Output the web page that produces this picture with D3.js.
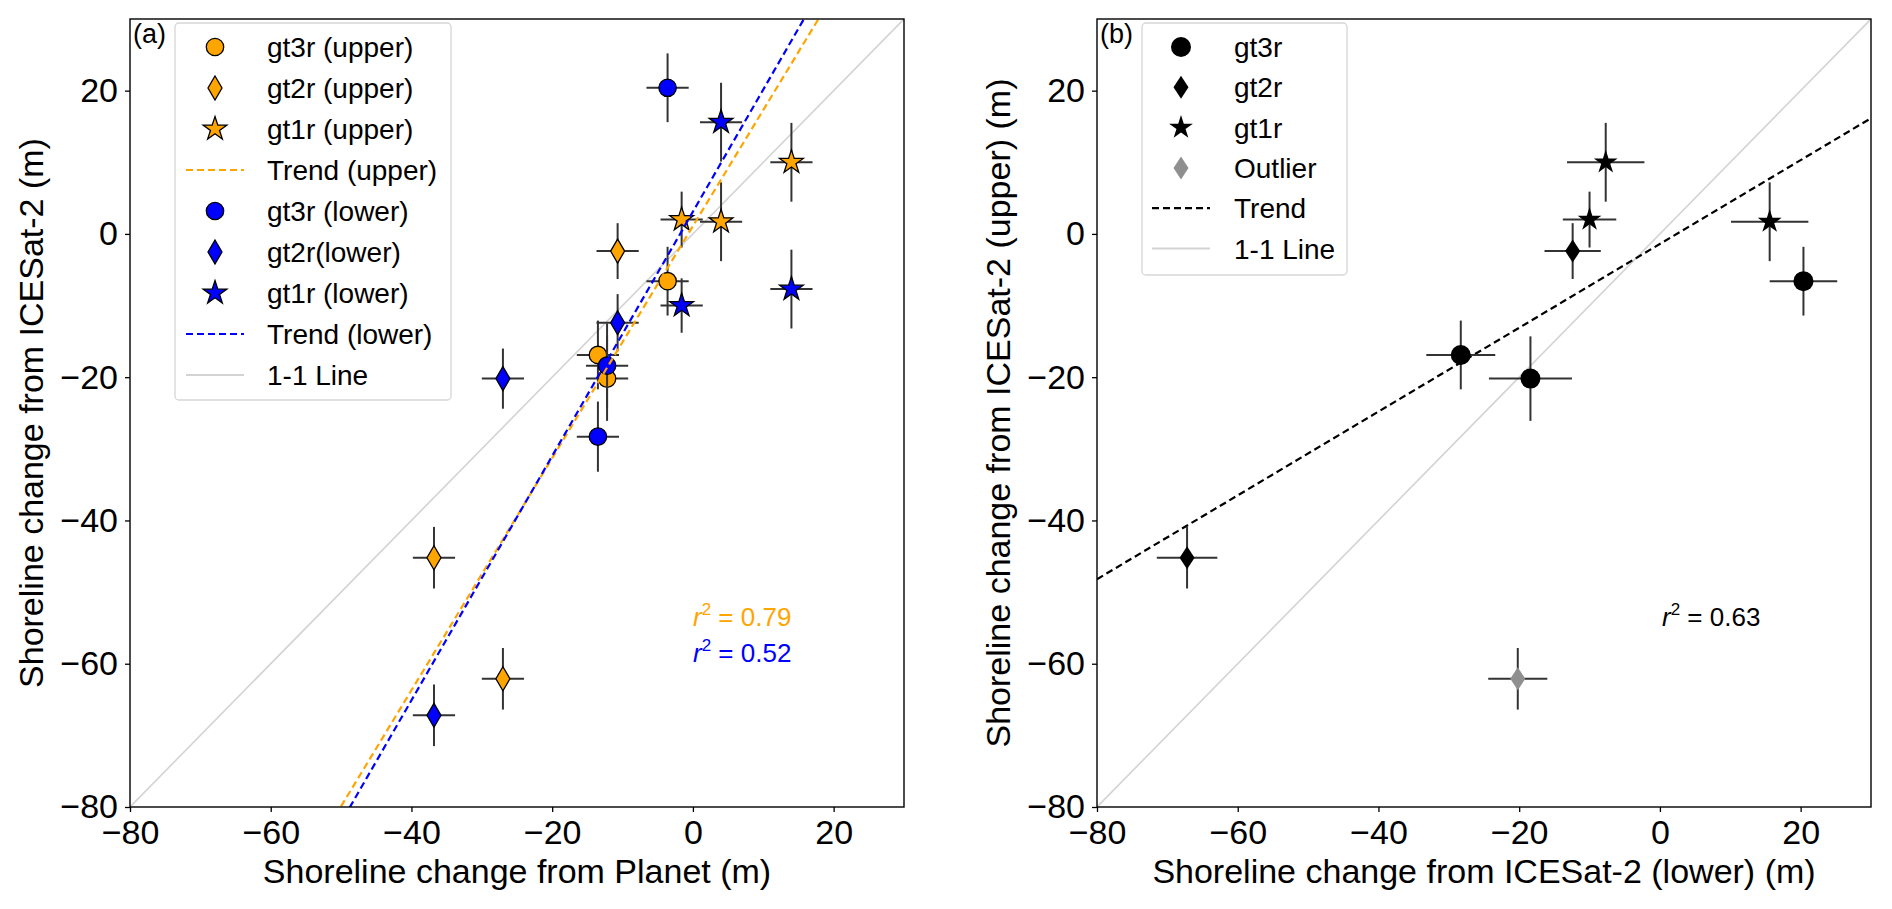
<!DOCTYPE html>
<html>
<head>
<meta charset="utf-8">
<script src="https://d3js.org/d3.v7.min.js"></script>
<style>
  body { margin: 0; background: #fff; }
  text { font-family: "Liberation Sans", Arial, sans-serif; }
</style>
</head>
<body>
<div id="canvas"></div>
<script>
// values, one entry per site
var beam      = ["gt3r", "gt3r", "gt3r", "gt2r", "gt2r", "gt2r", "gt1r", "gt1r", "gt1r"];
var planet    = [-3.6, -12.2, -13.5, -10.7, -36.8, -27.0, 14.0, -1.6, 4.0];
var planetErr = [3.0, 3.0, 3.0, 3.0, 3.0, 3.0, 3.0, 3.0, 3.0];
var upper     = [-6.6, -20.2, -16.9, -2.4, -45.2, -62.1, 10.0, 2.0, 1.7];
var upperErr  = [4.8, 5.9, 4.8, 3.9, 4.3, 4.3, 5.5, 3.9, 5.5];
var lower     = [20.4, -18.4, -28.3, -12.4, -67.2, -20.2, -7.7, -10.0, 15.6];
var lowerErr  = [4.8, 5.9, 4.9, 4.0, 4.3, 4.2, 5.5, 3.8, 5.5];
var outlier   = [false, false, false, false, false, true, false, false, false];

// trend lines [slope, intercept]
var trendUpper = [1.62, 1.1];
var trendLower = [1.705, 3.1];
var trendB     = [0.585, -1.4];
var r2Values   = ["0.79", "0.52", "0.63"];

var tickValues = [-80, -60, -40, -20, 0, 20];
var axisDomain = [-80, 30];

var legendA = ["gt3r (upper)", "gt2r (upper)", "gt1r (upper)", "Trend (upper)",
               "gt3r (lower)", "gt2r(lower)", "gt1r (lower)", "Trend (lower)", "1-1 Line"];
var legendB = ["gt3r", "gt2r", "gt1r", "Outlier", "Trend", "1-1 Line"];

var orange = "#FFA500", blue = "#0000FF", gray11 = "#d3d3d3";

// canvas
var W = 1892, H = 909;
var marginTop = 19, pw = 774, ph = 788;
var svg = d3.select("#canvas").append("svg")
  .attr("width", W).attr("height", H);

var x = d3.scaleLinear().domain(axisDomain).range([0, pw]);
var y = d3.scaleLinear().domain(axisDomain).range([ph, 0]);

function starPath(R) {
  var pts = [];
  for (var i = 0; i < 10; i++) {
    var a = -Math.PI / 2 + i * Math.PI / 5;
    var rr = i % 2 ? R * 0.382 : R;
    pts.push([rr * Math.cos(a), rr * Math.sin(a)].map(function(v) { return v.toFixed(2); }).join(","));
  }
  return "M" + pts.join("L") + "Z";
}
function diamondPath(w, h) { return "M0," + (-h) + "L" + w + ",0L0," + h + "L" + (-w) + ",0Z"; }
function circlePath(r) { return "M" + r + ",0A" + r + "," + r + " 0 1,1 " + (-r) + ",0A" + r + "," + r + " 0 1,1 " + r + ",0Z"; }

var shapesA = { gt3r: circlePath(8.7), gt2r: diamondPath(7, 12), gt1r: starPath(12.5) };
var shapesB = { gt3r: circlePath(10), gt2r: diamondPath(7.5, 11.5), gt1r: starPath(12.5) };

function makePanel(left, id) {
  var g = svg.append("g").attr("transform", `translate(${left},${marginTop})`);
  g.append("clipPath").attr("id", "clip" + id)
    .append("rect").attr("width", pw).attr("height", ph);

  // axes
  var xa = g.append("g").attr("transform", `translate(0,${ph})`)
    .call(d3.axisBottom(x).tickValues(tickValues).tickSize(5).tickPadding(8));
  var ya = g.append("g")
    .call(d3.axisLeft(y).tickValues(tickValues).tickSize(5).tickPadding(7));
  [xa, ya].forEach(function(a) {
    a.select(".domain").remove();
    a.selectAll("line").attr("stroke", "#000").attr("stroke-width", 1.3);
    a.selectAll("text").attr("font-size", 34).attr("fill", "#000")
      .attr("font-family", "Liberation Sans, Arial, sans-serif");
  });

  var plot = g.append("g").attr("clip-path", `url(#clip${id})`);
  // 1-1 line
  plot.append("line")
    .attr("x1", x(axisDomain[0])).attr("y1", y(axisDomain[0]))
    .attr("x2", x(axisDomain[1])).attr("y2", y(axisDomain[1]))
    .attr("stroke", gray11).attr("stroke-width", 1.6);
  return { g: g, plot: plot };
}

function trendLine(plot, t, color) {
  plot.append("line")
    .attr("x1", x(axisDomain[0])).attr("y1", y(t[0] * axisDomain[0] + t[1]))
    .attr("x2", x(axisDomain[1])).attr("y2", y(t[0] * axisDomain[1] + t[1]))
    .attr("stroke", color).attr("stroke-width", 2.2)
    .attr("stroke-dasharray", "7,4");
}

function errorPoints(plot, xs, xe, ys, ye, fill, stroke, shapes, fills) {
  var pts = xs.map(function(v, i) { return { x: v, xe: xe[i], y: ys[i], ye: ye[i], b: beam[i], f: fills ? fills[i] : fill }; });
  var grp = plot.append("g");
  pts.forEach(function(d) {
    var pg = grp.append("g");
    pg.append("line")
      .attr("x1", x(d.x - d.xe)).attr("x2", x(d.x + d.xe))
      .attr("y1", y(d.y)).attr("y2", y(d.y))
      .attr("stroke", "#333").attr("stroke-width", 2);
    pg.append("line")
      .attr("x1", x(d.x)).attr("x2", x(d.x))
      .attr("y1", y(d.y - d.ye)).attr("y2", y(d.y + d.ye))
      .attr("stroke", "#333").attr("stroke-width", 2);
    pg.append("path")
      .attr("d", shapes[d.b])
      .attr("transform", `translate(${x(d.x)},${y(d.y)})`)
      .attr("fill", d.f)
      .attr("stroke", stroke || "none").attr("stroke-width", 1.3);
  });
}

function frame(g) {
  g.append("rect").attr("width", pw).attr("height", ph)
    .attr("fill", "none").attr("stroke", "#000").attr("stroke-width", 1.4);
}

function r2Label(g, px, py, val, color) {
  var t = g.append("text").attr("x", px).attr("y", py)
    .attr("font-size", 26).attr("fill", color);
  t.append("tspan").attr("font-style", "italic").text("r");
  t.append("tspan").attr("font-size", 17).attr("dy", -11).text("2");
  t.append("tspan").attr("dy", 11).text(" = " + val);
}

function legend(g, lx, ly, w, h, step, mx, tx, items) {
  var lg = g.append("g").attr("transform", `translate(${lx},${ly})`);
  lg.append("rect").attr("width", w).attr("height", h).attr("rx", 4)
    .attr("fill", "#fff").attr("fill-opacity", 0.8)
    .attr("stroke", "#d6d6d6").attr("stroke-width", 1.3);
  items.forEach(function(it, i) {
    var cy = 24 + i * step;
    if (it.line) {
      lg.append("line").attr("x1", mx - 29).attr("x2", mx + 29)
        .attr("y1", cy).attr("y2", cy)
        .attr("stroke", it.line).attr("stroke-width", it.dash ? 2.2 : 1.8)
        .attr("stroke-dasharray", it.dash ? "7,4" : null);
    } else {
      lg.append("path").attr("d", it.shape)
        .attr("transform", `translate(${mx},${cy})`)
        .attr("fill", it.fill).attr("stroke", it.stroke || "none").attr("stroke-width", 1.3);
    }
    lg.append("text").attr("x", tx).attr("y", cy + 10)
      .attr("font-size", 28).text(it.label);
  });
}

// ---------- panel (a)
var leftA = 130, leftB = 1097;
var pa = makePanel(leftA, "a");
errorPoints(pa.plot, planet, planetErr, upper, upperErr, orange, "#000", shapesA);
errorPoints(pa.plot, planet, planetErr, lower, lowerErr, blue, "#000", shapesA);
trendLine(pa.plot, trendUpper, orange);
trendLine(pa.plot, trendLower, blue);
frame(pa.g);
pa.g.append("text").attr("x", 3).attr("y", 24).attr("font-size", 27).text("(a)");
r2Label(pa.g, 563, 607, r2Values[0], orange);
r2Label(pa.g, 563, 643, r2Values[1], blue);
legend(pa.g, 45, 4, 276, 377, 41, 40, 92, [
  { label: legendA[0], shape: shapesA.gt3r, fill: orange, stroke: "#000" },
  { label: legendA[1], shape: shapesA.gt2r, fill: orange, stroke: "#000" },
  { label: legendA[2], shape: shapesA.gt1r, fill: orange, stroke: "#000" },
  { label: legendA[3], line: orange, dash: true },
  { label: legendA[4], shape: shapesA.gt3r, fill: blue, stroke: "#000" },
  { label: legendA[5], shape: shapesA.gt2r, fill: blue, stroke: "#000" },
  { label: legendA[6], shape: shapesA.gt1r, fill: blue, stroke: "#000" },
  { label: legendA[7], line: blue, dash: true },
  { label: legendA[8], line: gray11 }
]);
svg.append("text").attr("x", leftA + pw / 2).attr("y", 883)
  .attr("text-anchor", "middle").attr("font-size", 34)
  .text("Shoreline change from Planet (m)");
svg.append("text").attr("transform", `translate(43,${marginTop + ph / 2}) rotate(-90)`)
  .attr("text-anchor", "middle").attr("font-size", 34)
  .text("Shoreline change from ICESat-2 (m)");

// ---------- panel (b)
var pb = makePanel(leftB, "b");
trendLine(pb.plot, trendB, "#000");
errorPoints(pb.plot, lower, lowerErr, upper, upperErr, "#000", null, shapesB,
  outlier.map(function(o) { return o ? "#8f8f8f" : "#000"; }));
frame(pb.g);
pb.g.append("text").attr("x", 3).attr("y", 24).attr("font-size", 27).text("(b)");
r2Label(pb.g, 565, 607, r2Values[2], "#000");
legend(pb.g, 45, 4, 205, 252, 40.3, 39, 92, [
  { label: legendB[0], shape: shapesB.gt3r, fill: "#000" },
  { label: legendB[1], shape: shapesB.gt2r, fill: "#000" },
  { label: legendB[2], shape: shapesB.gt1r, fill: "#000" },
  { label: legendB[3], shape: shapesB.gt2r, fill: "#8f8f8f" },
  { label: legendB[4], line: "#000", dash: true },
  { label: legendB[5], line: gray11 }
]);
svg.append("text").attr("x", leftB + pw / 2).attr("y", 883)
  .attr("text-anchor", "middle").attr("font-size", 34)
  .text("Shoreline change from ICESat-2 (lower) (m)");
svg.append("text").attr("transform", `translate(1010,${marginTop + ph / 2}) rotate(-90)`)
  .attr("text-anchor", "middle").attr("font-size", 34)
  .text("Shoreline change from ICESat-2 (upper) (m)");
</script>
</body>
</html>
